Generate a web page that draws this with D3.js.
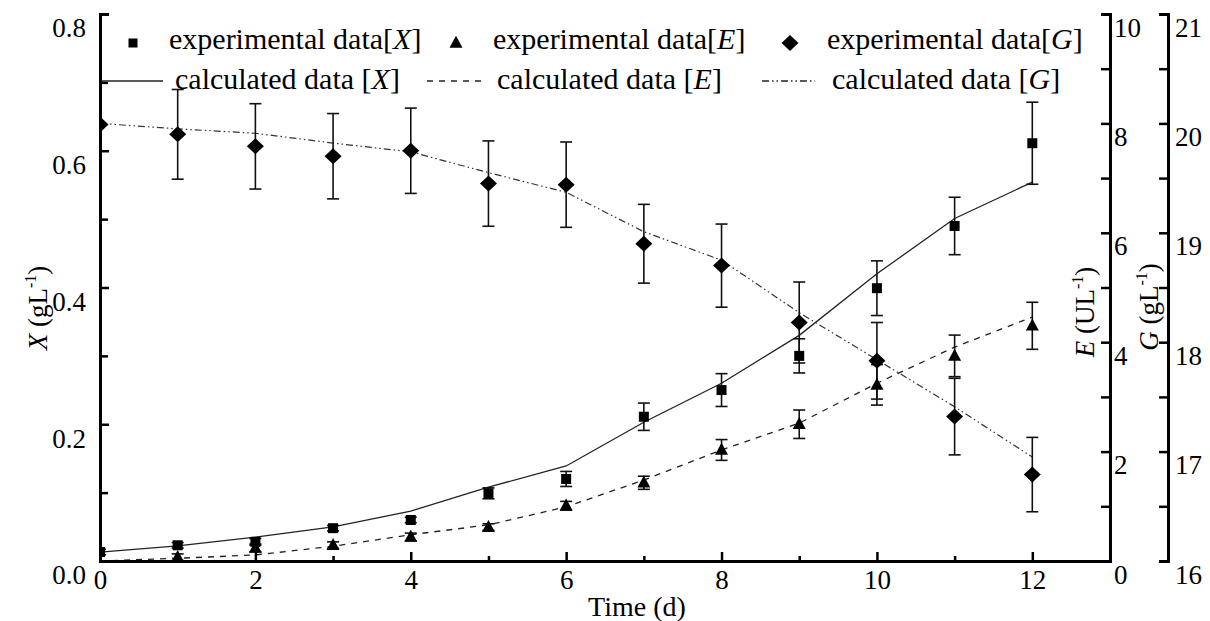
<!DOCTYPE html>
<html>
<head>
<meta charset="utf-8">
<script src="https://cdn.jsdelivr.net/npm/d3@7"></script>
<style>
  body { margin: 0; background: #fff; }
  svg text { font-family: "Liberation Serif", "Times New Roman", serif; fill: #000; }
</style>
</head>
<body>
<div id="chart"></div>
<script>
// Biomass X, enzyme E and glucose G over time: experimental points + model curves

const days = [0, 1, 2, 3, 4, 5, 6, 7, 8, 9, 10, 11, 12];

// X (g/L), left axis
const expX  = [0.013, 0.023, 0.028, 0.048, 0.060, 0.099, 0.120, 0.211, 0.250, 0.300, 0.399, 0.490, 0.611];
const errX  = [0.004, 0.004, 0.005, 0.004, 0.004, 0.008, 0.011, 0.020, 0.024, 0.025, 0.040, 0.042, 0.060];
const calcX = [0.013, 0.022, 0.035, 0.050, 0.073, 0.108, 0.139, 0.203, 0.260, 0.330, 0.420, 0.501, 0.554];

// E (U/L), first right axis
const daysE = [1, 2, 3, 4, 5, 6, 7, 8, 9, 10, 11, 12];
const expE  = [0.07, 0.24, 0.29, 0.44, 0.62, 1.01, 1.43, 2.03, 2.50, 3.22, 3.75, 4.30];
const errE  = [0.06, 0.07, 0.06, 0.07, 0.06, 0.08, 0.12, 0.19, 0.26, 0.37, 0.38, 0.43];
const calcE = [0.00, 0.05, 0.11, 0.27, 0.48, 0.66, 0.99, 1.48, 2.03, 2.52, 3.25, 3.91, 4.46];

// G (g/L), second right axis
const expG  = [19.99, 19.90, 19.79, 19.70, 19.75, 19.45, 19.44, 18.90, 18.70, 18.18, 17.83, 17.32, 16.79];
const errG  = [0, 0.41, 0.39, 0.39, 0.39, 0.39, 0.39, 0.36, 0.38, 0.37, 0.35, 0.35, 0.34];
const calcG = [20.00, 19.95, 19.91, 19.82, 19.74, 19.55, 19.37, 19.01, 18.75, 18.27, 17.84, 17.41, 16.95];

const xTicks = [0, 2, 4, 6, 8, 10, 12];
const xMinor = [1, 3, 5, 7, 9, 11];
const yXTicks = [0, 0.2, 0.4, 0.6, 0.8];
const yXMinor = [0.1, 0.3, 0.5, 0.7];
const yETicks = [0, 2, 4, 6, 8, 10];
const yEMinor = [1, 3, 5, 7, 9];
const yGTicks = [16, 17, 18, 19, 20, 21];
const yGMinor = [16.5, 17.5, 18.5, 19.5, 20.5];

const expLabels  = ['X', 'E', 'G'];
const calcLabels = ['X', 'E', 'G'];

const W = 1210, H = 621;
const plotL = 100, plotR = 1110, plotT = 14, plotB = 561;
const gAxisX = 1168;

const svg = d3.select('#chart').append('svg')
    .attr('width', W)
    .attr('height', H);

// scales
const x  = d3.scaleLinear().domain([0, 13]).range([plotL, plotR]);
const yX = d3.scaleLinear().domain([0, 0.8]).range([plotB, plotT]);
const yE = d3.scaleLinear().domain([0, 10]).range([plotB, plotT]);
const yG = d3.scaleLinear().domain([16, 21]).range([plotB, plotT]);

svg.append('clipPath').attr('id', 'plot-clip')
    .append('rect')
    .attr('x', plotL).attr('y', plotT)
    .attr('width', plotR - plotL).attr('height', plotB - plotT);

const plot = svg.append('g').attr('clip-path', 'url(#plot-clip)');

// model curves
const lineX = d3.line().x((d, i) => x(days[i])).y(d => yX(d));
const lineE = d3.line().x((d, i) => x(days[i])).y(d => yE(d));
const lineG = d3.line().x((d, i) => x(days[i])).y(d => yG(d));

const solid = null, dashed = '6,6', dashDotDot = '7,3,1.5,3,1.5,3';

plot.append('path').datum(calcX).attr('d', lineX)
    .attr('fill', 'none').attr('stroke', '#222').attr('stroke-width', 1.3);
plot.append('path').datum(calcE).attr('d', lineE)
    .attr('fill', 'none').attr('stroke', '#222').attr('stroke-width', 1.3)
    .attr('stroke-dasharray', dashed);
plot.append('path').datum(calcG).attr('d', lineG)
    .attr('fill', 'none').attr('stroke', '#333').attr('stroke-width', 1.2)
    .attr('stroke-dasharray', dashDotDot);

// error bars
function errorBars(xs, vals, errs, yScale, cls) {
    const data = xs.map((d, i) => ({ t: d, v: vals[i], e: errs[i] })).filter(d => d.e > 0);
    const g = plot.append('g').attr('class', cls)
        .attr('stroke', '#111').attr('stroke-width', 1.6);
    g.selectAll('line.v').data(data).join('line').attr('class', 'v')
        .attr('x1', d => x(d.t)).attr('x2', d => x(d.t))
        .attr('y1', d => yScale(d.v - d.e)).attr('y2', d => yScale(d.v + d.e));
    g.selectAll('line.top').data(data).join('line').attr('class', 'top')
        .attr('x1', d => x(d.t) - 6).attr('x2', d => x(d.t) + 6)
        .attr('y1', d => yScale(d.v + d.e)).attr('y2', d => yScale(d.v + d.e));
    g.selectAll('line.bot').data(data).join('line').attr('class', 'bot')
        .attr('x1', d => x(d.t) - 6).attr('x2', d => x(d.t) + 6)
        .attr('y1', d => yScale(d.v - d.e)).attr('y2', d => yScale(d.v - d.e));
}

errorBars(days, expG, errG, yG, 'err-g');
errorBars(days, expX, errX, yX, 'err-x');
errorBars(daysE, expE, errE, yE, 'err-e');

// marker shapes
const squarePath = s => `M${-s/2},${-s/2}h${s}v${s}h${-s}Z`;
const trianglePath = (w, h) => `M0,${-h*0.6}L${w/2},${h*0.4}L${-w/2},${h*0.4}Z`;
const diamondPath = (w, h) => `M0,${-h/2}L${w/2},0L0,${h/2}L${-w/2},0Z`;

plot.append('g').selectAll('path').data(expG).join('path')
    .attr('transform', (d, i) => `translate(${x(days[i])},${yG(d)})`)
    .attr('d', diamondPath(17, 16)).attr('fill', '#000');
plot.append('g').selectAll('path').data(expX).join('path')
    .attr('transform', (d, i) => `translate(${x(days[i])},${yX(d)})`)
    .attr('d', squarePath(10)).attr('fill', '#000');
plot.append('g').selectAll('path').data(expE).join('path')
    .attr('transform', (d, i) => `translate(${x(daysE[i])},${yE(d)})`)
    .attr('d', trianglePath(13, 12)).attr('fill', '#000');

// axes
function styleAxis(g, size) {
    g.attr('font-family', '"Liberation Serif", "Times New Roman", serif').attr('font-size', size || 27);
    g.select('.domain').attr('stroke', '#000').attr('stroke-width', 3);
    g.selectAll('.tick line').attr('stroke', '#000').attr('stroke-width', 2.5);
    g.selectAll('.tick text').attr('fill', '#000');
}
function minorAxis(axis, tr) {
    const g = svg.append('g').attr('transform', tr).call(axis);
    g.select('.domain').remove();
    g.selectAll('.tick line').attr('stroke', '#000').attr('stroke-width', 2.5);
    g.selectAll('.tick text').remove();
}

minorAxis(d3.axisBottom(x).tickValues(xMinor).tickSizeInner(-5).tickSizeOuter(0), `translate(0,${plotB})`);
minorAxis(d3.axisLeft(yX).tickValues(yXMinor).tickSizeInner(-8).tickSizeOuter(0), `translate(${plotL},0)`);
minorAxis(d3.axisRight(yE).tickValues(yEMinor).tickSizeInner(-9).tickSizeOuter(0), `translate(${plotR},0)`);
minorAxis(d3.axisRight(yG).tickValues(yGMinor).tickSizeInner(-9).tickSizeOuter(0), `translate(${gAxisX},0)`);

const gx = svg.append('g').attr('transform', `translate(0,${plotB})`)
    .call(d3.axisBottom(x).tickValues(xTicks).tickSizeInner(-9).tickSizeOuter(0).tickPadding(9));
styleAxis(gx);

const gyX = svg.append('g').attr('transform', `translate(${plotL},0)`)
    .call(d3.axisLeft(yX).tickValues(yXTicks).tickFormat(d3.format('.1f'))
        .tickSizeInner(-9).tickSizeOuter(-9).tickPadding(14));
styleAxis(gyX);
gyX.selectAll('.tick text').attr('dy', '0.85em');

const gyE = svg.append('g').attr('transform', `translate(${plotR},0)`)
    .call(d3.axisRight(yE).tickValues(yETicks).tickFormat(d3.format('d'))
        .tickSizeInner(-9).tickSizeOuter(-9).tickPadding(4));
styleAxis(gyE);
gyE.selectAll('.tick text').attr('dy', '0.82em');

const gyG = svg.append('g').attr('transform', `translate(${gAxisX},0)`)
    .call(d3.axisRight(yG).tickValues(yGTicks).tickFormat(d3.format('d'))
        .tickSizeInner(-9).tickSizeOuter(-9).tickPadding(7));
styleAxis(gyG);
gyG.selectAll('.tick text').attr('dy', '0.82em');

// axis titles
function axisTitle(tx, ty, letter, unit) {
    const t = svg.append('text')
        .attr('transform', `translate(${tx},${ty}) rotate(-90)`)
        .attr('text-anchor', 'middle')
        .style('font-size', '27px');
    t.append('tspan').style('font-style', 'italic').text(letter);
    t.append('tspan').text(' (' + unit);
    t.append('tspan').attr('dy', -11).style('font-size', '16px').text('-1');
    t.append('tspan').attr('dy', 11).text(')');
}
axisTitle(47, 308, 'X', 'gL');
axisTitle(1094, 312, 'E', 'UL');
axisTitle(1158, 307, 'G', 'gL');

svg.append('text')
    .attr('x', 637).attr('y', 616)
    .attr('text-anchor', 'middle')
    .style('font-size', '28px')
    .text('Time (d)');

// legend
const legend = svg.append('g').style('font-size', '30px');
const expMarkers = [squarePath(9), trianglePath(13, 12), diamondPath(17, 16)];
const expMarkerX = [133, 456, 790];
const expTextX = [169, 493, 827];
const calcDash = [solid, dashed, dashDotDot];
const calcLineX = [[101, 163], [427, 481], [762, 815]];
const calcTextX = [175, 497, 832];

expLabels.forEach((lab, i) => {
    legend.append('path')
        .attr('transform', `translate(${expMarkerX[i]},43)`)
        .attr('d', expMarkers[i]).attr('fill', '#000');
    const t = legend.append('text').attr('x', expTextX[i]).attr('y', 49);
    t.append('tspan').text('experimental data[');
    t.append('tspan').style('font-style', 'italic').text(lab);
    t.append('tspan').text(']');
});
calcLabels.forEach((lab, i) => {
    legend.append('line')
        .attr('x1', calcLineX[i][0]).attr('x2', calcLineX[i][1])
        .attr('y1', 81).attr('y2', 81)
        .attr('stroke', '#222').attr('stroke-width', 1.3)
        .attr('stroke-dasharray', calcDash[i]);
    const t = legend.append('text').attr('x', calcTextX[i]).attr('y', 89);
    t.append('tspan').text('calculated data [');
    t.append('tspan').style('font-style', 'italic').text(lab);
    t.append('tspan').text(']');
});
</script>
</body>
</html>
